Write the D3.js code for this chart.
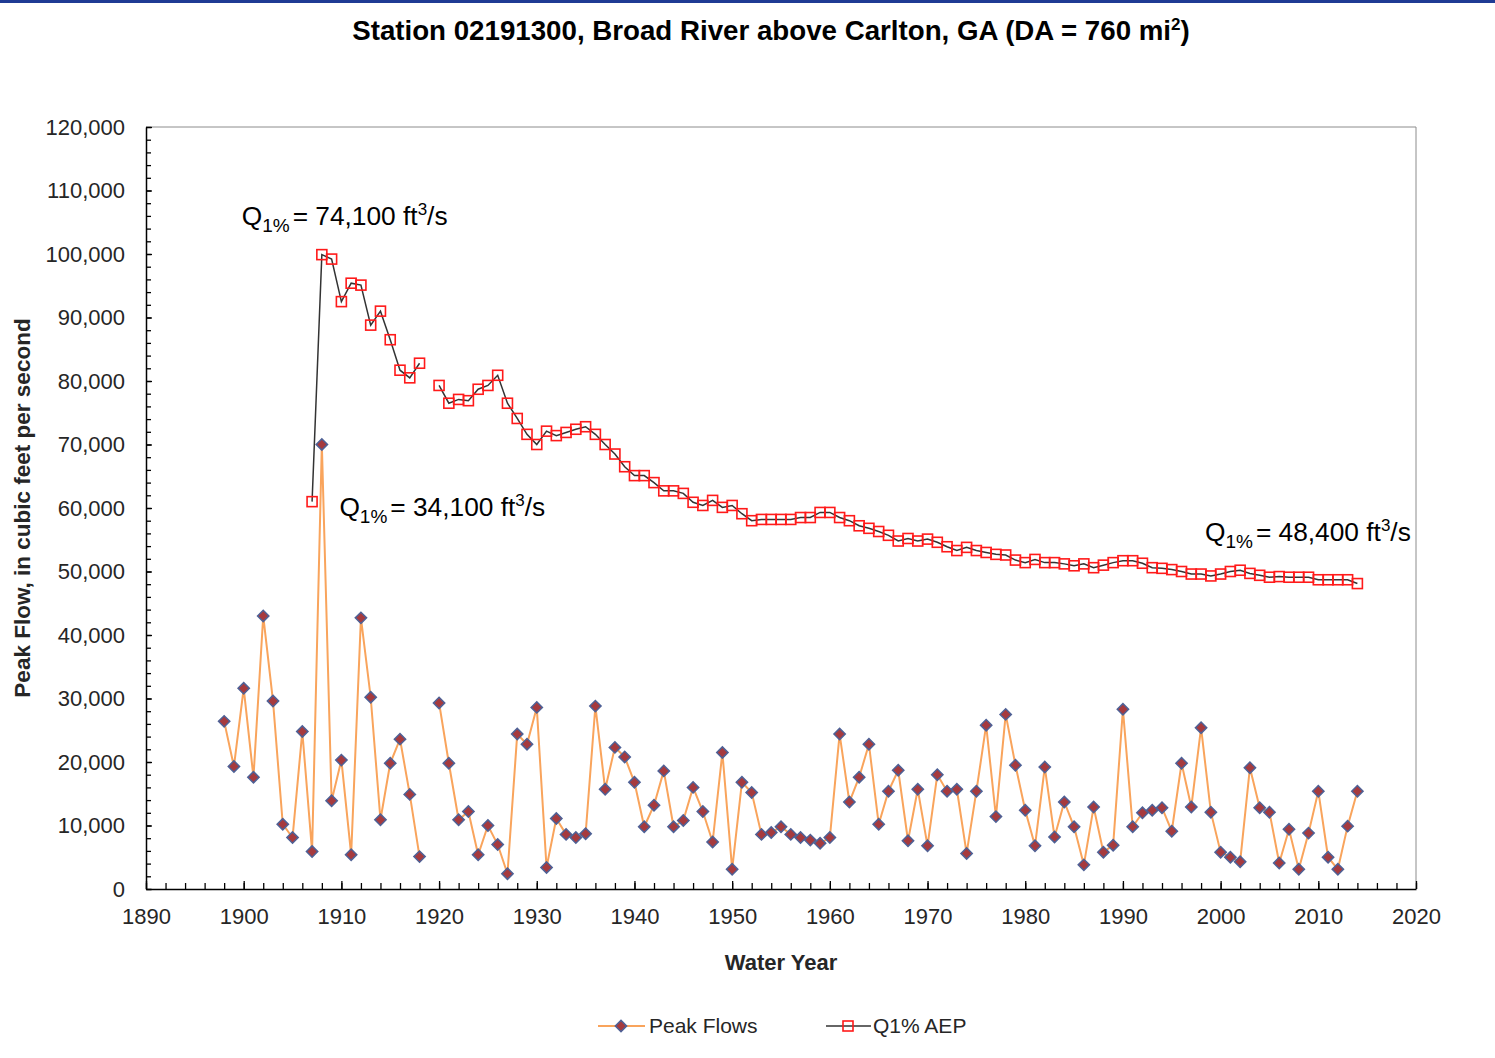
<!DOCTYPE html>
<head>
  <meta charset="utf-8">
  <title>Broad River above Carlton, GA</title>
  <script src="https://d3js.org/d3.v7.min.js"></script>
  <style type="text/css">
    body { margin: 0; background: #fff; }
    svg { font-family: "Liberation Sans", Arial, sans-serif; }
    .tick text { font-size: 22px; fill: #262626; }
    .axis path, .axis line { stroke: #000; }
    .peak-line { fill: none; stroke: #f9a45c; stroke-width: 2px; }
    .q-line { fill: none; stroke: #333; stroke-width: 1.5px; }
    .diamond { fill: #a63a3e; stroke: #4e6196; stroke-width: 1.5px; }
    .square { fill: none; stroke: #ff1a1a; stroke-width: 1.6px; }
    .note { font-size: 26.3px; fill: #000; }
  </style>
</head>
<body>
  <div id="graph-container"></div>

<script>
// =================== Data ======================
  // annual peak flows, ft3/s (water year 1919 missing)
  const peakYears = d3.range(1898, 2015);
  const peakFlows = [
    26400, 19300,
    31600, 17600, 43000, 29600, 10200, 8100, 24800, 5900, 70000, 13900,
    20300, 5400, 42700, 30200, 10900, 19800, 23600, 14900, 5100, null,
    29300, 19800, 10900, 12200, 5400, 10000, 7000, 2400, 24400, 22800,
    28600, 3400, 11100, 8600, 8100, 8700, 28800, 15700, 22300, 20800,
    16800, 9800, 13200, 18600, 9800, 10800, 16000, 12200, 7400, 21500,
    3100, 16800, 15200, 8600, 8900, 9800, 8600, 8100, 7700, 7200,
    8100, 24400, 13700, 17600, 22800, 10200, 15400, 18700, 7600, 15700,
    6800, 18000, 15400, 15700, 5600, 15400, 25800, 11400, 27500, 19500,
    12400, 6800, 19200, 8200, 13700, 9800, 3800, 12900, 5800, 6900,
    28300, 9800, 12000, 12400, 12800, 9100, 19800, 12900, 25400, 12100,
    5800, 5000, 4300, 19100, 12800, 12100, 4100, 9400, 3100, 8800,
    15400, 5000, 3100, 9900, 15400
  ];

  // running Q1% AEP estimate, ft3/s
  const qYears = d3.range(1907, 2015);
  const q1Aep = [
    61000, 99900, 99200,
    92500, 95400, 95100, 88800, 91000, 86500, 81700, 80500, 82800, null,
    79300, 76500, 77100, 76900, 78700, 79300, 80900, 76500, 74100, 71600,
    70000, 72100, 71400, 71900, 72400, 72800, 71600, 70000, 68500, 66500,
    65100, 65100, 64000, 62700, 62700, 62300, 60900, 60400, 61200, 60100,
    60400, 59100, 58000, 58200, 58200, 58200, 58200, 58500, 58500, 59300,
    59300, 58500, 58000, 57200, 56800, 56300, 55700, 54800, 55200, 54800,
    55100, 54600, 53900, 53300, 53800, 53300, 53000, 52700, 52600, 51800,
    51400, 51900, 51400, 51400, 51200, 50900, 51200, 50600, 51000, 51400,
    51700, 51700, 51300, 50600, 50500, 50300, 50000, 49600, 49600, 49300,
    49600, 50000, 50200, 49700, 49400, 49100, 49200, 49100, 49100, 49100,
    48700, 48700, 48700, 48700, 48100
  ];

  const xTicks = d3.range(1890, 2021, 10);
  const yTicks = d3.range(0, 120001, 10000);

  // value, year, text position
  const notes = [
    { value: "74,100", year: 1900, at: 225 },
    { value: "34,100", year: 1910, at: 516 },
    { value: "48,400", year: 1998.6, at: 541 }
  ];

// =================== Chart Prep ======================
  let width = 1495,
      height = 1058,
      margin = { top: 127, right: 79, bottom: 169, left: 146 };

  let svg = d3.select("#graph-container").append("svg")
      .attr("width", width)
      .attr("height", height);

  // blue strip at the very top
  svg.append("rect")
      .attr("x", 0).attr("y", 0)
      .attr("width", width).attr("height", 3)
      .attr("fill", "#1f3b94");

  let x = d3.scaleLinear()
      .domain([1890, 2020])
      .range([margin.left, width - margin.right]);

  let y = d3.scaleLinear()
      .domain([0, 120000])
      .range([height - margin.bottom, margin.top]);

  // frame (top/right)
  svg.append("path")
      .attr("d", "M" + x(1890) + "," + y(120000) + "H" + x(2020) + "V" + y(0))
      .attr("fill", "none")
      .attr("stroke", "#8c8c8c")
      .attr("stroke-width", 1);

  // minor ticks
  svg.append("g")
      .attr("class", "axis")
      .attr("transform", "translate(" + margin.left + ",0)")
      .call(d3.axisLeft(y).tickValues(d3.range(0, 120001, 2000)).tickSize(-5).tickSizeOuter(0).tickFormat(""))
      .call(g => g.select(".domain").remove());

  svg.append("g")
      .attr("class", "axis")
      .attr("transform", "translate(0," + y(0) + ")")
      .call(d3.axisBottom(x).tickValues(d3.range(1890, 2021, 2)).tickSize(-6).tickSizeOuter(0).tickFormat(""))
      .call(g => g.select(".domain").remove());

  // major axes
  svg.append("g")
      .attr("class", "axis")
      .attr("transform", "translate(" + margin.left + ",0)")
      .call(d3.axisLeft(y).tickValues(yTicks).tickSize(-6).tickSizeOuter(0)
        .tickPadding(21).tickFormat(d3.format(",")))
      .call(g => g.select(".domain").attr("stroke-width", 1.5));

  svg.append("g")
      .attr("class", "axis")
      .attr("transform", "translate(0," + y(0) + ")")
      .call(d3.axisBottom(x).tickValues(xTicks).tickSize(-8).tickSizeOuter(0)
        .tickPadding(19).tickFormat(d3.format("d")))
      .call(g => g.select(".domain").attr("stroke-width", 1.5));

  svg.selectAll(".axis line").attr("stroke-width", 1.3);

// =================== Series ======================
  let peaks = peakYears.map((yr, i) => ({ year: yr, v: peakFlows[i] }));
  let q1 = qYears.map((yr, i) => ({ year: yr, v: q1Aep[i] }));

  let line = d3.line()
      .defined(d => d.v !== null)
      .x(d => x(d.year))
      .y(d => y(d.v));

  svg.append("path")
      .datum(peaks)
      .attr("class", "peak-line")
      .attr("d", line);

  let diamond = d3.symbol().type(d3.symbolSquare).size(64);

  svg.selectAll(".diamond")
      .data(peaks.filter(d => d.v !== null))
    .enter().append("path")
      .attr("class", "diamond")
      .attr("d", diamond)
      .attr("transform", d => "translate(" + x(d.year) + "," + y(d.v) + ") rotate(45)");

  svg.append("path")
      .datum(q1)
      .attr("class", "q-line")
      .attr("d", line);

  svg.selectAll(".square")
      .data(q1.filter(d => d.v !== null))
    .enter().append("rect")
      .attr("class", "square")
      .attr("x", d => x(d.year) - 5)
      .attr("y", d => y(d.v) - 5)
      .attr("width", 10)
      .attr("height", 10);

// =================== Text ======================
  let title = svg.append("text")
      .attr("x", 771)
      .attr("y", 40)
      .attr("text-anchor", "middle")
      .attr("font-size", 27.7)
      .attr("font-weight", "bold")
      .text("Station 02191300, Broad River above Carlton, GA (DA = 760 mi");
  title.append("tspan").attr("dy", -10).attr("font-size", 17).text("2");
  title.append("tspan").attr("dy", 10).text(")");

  svg.append("text")
      .attr("x", x(1955))
      .attr("y", 970)
      .attr("text-anchor", "middle")
      .attr("font-size", 22)
      .attr("font-weight", "bold")
      .attr("fill", "#262626")
      .text("Water Year");

  svg.append("text")
      .attr("transform", "translate(30," + y(60000) + ") rotate(-90)")
      .attr("text-anchor", "middle")
      .attr("font-size", 22.5)
      .attr("font-weight", "bold")
      .attr("fill", "#262626")
      .text("Peak Flow, in cubic feet per second");

  // Q1% notes
  notes.forEach(n => {
    let t = svg.append("text")
        .attr("class", "note")
        .attr("x", x(n.year) - 2)
        .attr("y", n.at)
        .text("Q");
    t.append("tspan").attr("dy", 7).attr("font-size", 19).text("1%");
    t.append("tspan").attr("dy", -7).attr("dx", 3).text("= " + n.value + " ft");
    t.append("tspan").attr("dy", -10).attr("font-size", 17).text("3");
    t.append("tspan").attr("dy", 10).text("/s");
  });

// =================== Legend ======================
  let legend = svg.append("g")
      .attr("transform", "translate(0,1026)");

  legend.append("line")
      .attr("x1", 598).attr("x2", 645)
      .attr("class", "peak-line");
  legend.append("path")
      .attr("class", "diamond")
      .attr("d", diamond)
      .attr("transform", "translate(621,0) rotate(45)");
  legend.append("text")
      .attr("x", 649).attr("y", 7)
      .attr("font-size", 21)
      .attr("fill", "#262626")
      .text("Peak Flows");

  legend.append("line")
      .attr("x1", 826).attr("x2", 871)
      .attr("class", "q-line");
  legend.append("rect")
      .attr("class", "square")
      .attr("x", 843).attr("y", -5)
      .attr("width", 10).attr("height", 10);
  legend.append("text")
      .attr("x", 873).attr("y", 7)
      .attr("font-size", 21)
      .attr("fill", "#262626")
      .text("Q1% AEP");
</script>
